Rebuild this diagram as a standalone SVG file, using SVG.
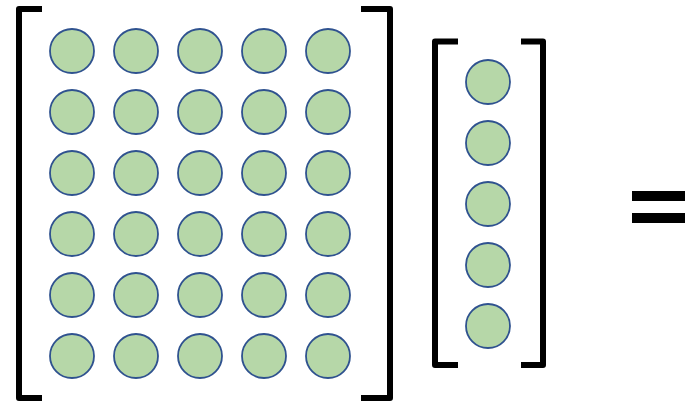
<svg xmlns="http://www.w3.org/2000/svg" width="685" height="404" viewBox="0 0 685 404">
<style>
.br{fill:none;stroke:#000;stroke-width:6;stroke-linejoin:round;stroke-linecap:butt}
.c{fill:#B6D7A8;stroke:#2F528F;stroke-width:1.8}
</style>
<defs><circle id="dot" class="c" r="22"/></defs>
<rect width="685" height="404" fill="#fff"/>
<g id="matrix-brackets">
<path class="br" d="M42,9 H19 V398 H42"/>
<path class="br" d="M361,9 H390 V398 H361"/>
</g>
<g id="matrix">
<g id="row1"><use href="#dot" x="72" y="51"/><use href="#dot" x="136" y="51"/><use href="#dot" x="200" y="51"/><use href="#dot" x="264" y="51"/><use href="#dot" x="328" y="51"/></g>
<g id="row2"><use href="#dot" x="72" y="112"/><use href="#dot" x="136" y="112"/><use href="#dot" x="200" y="112"/><use href="#dot" x="264" y="112"/><use href="#dot" x="328" y="112"/></g>
<g id="row3"><use href="#dot" x="72" y="173"/><use href="#dot" x="136" y="173"/><use href="#dot" x="200" y="173"/><use href="#dot" x="264" y="173"/><use href="#dot" x="328" y="173"/></g>
<g id="row4"><use href="#dot" x="72" y="234"/><use href="#dot" x="136" y="234"/><use href="#dot" x="200" y="234"/><use href="#dot" x="264" y="234"/><use href="#dot" x="328" y="234"/></g>
<g id="row5"><use href="#dot" x="72" y="295"/><use href="#dot" x="136" y="295"/><use href="#dot" x="200" y="295"/><use href="#dot" x="264" y="295"/><use href="#dot" x="328" y="295"/></g>
<g id="row6"><use href="#dot" x="72" y="356"/><use href="#dot" x="136" y="356"/><use href="#dot" x="200" y="356"/><use href="#dot" x="264" y="356"/><use href="#dot" x="328" y="356"/></g>
</g>
<g id="vector-brackets">
<path class="br" d="M458,41.5 H435 V365 H458"/>
<path class="br" d="M521,41.5 H543 V365 H521"/>
</g>
<g id="vector">
<use href="#dot" x="488" y="82"/><use href="#dot" x="488" y="143"/><use href="#dot" x="488" y="204"/><use href="#dot" x="488" y="265"/><use href="#dot" x="488" y="326"/>
</g>
<g id="equals">
<rect x="632" y="191" width="60" height="10" fill="#000"/>
<rect x="632" y="213" width="60" height="10" fill="#000"/>
</g>
<g id="connectors"/>
</svg>
